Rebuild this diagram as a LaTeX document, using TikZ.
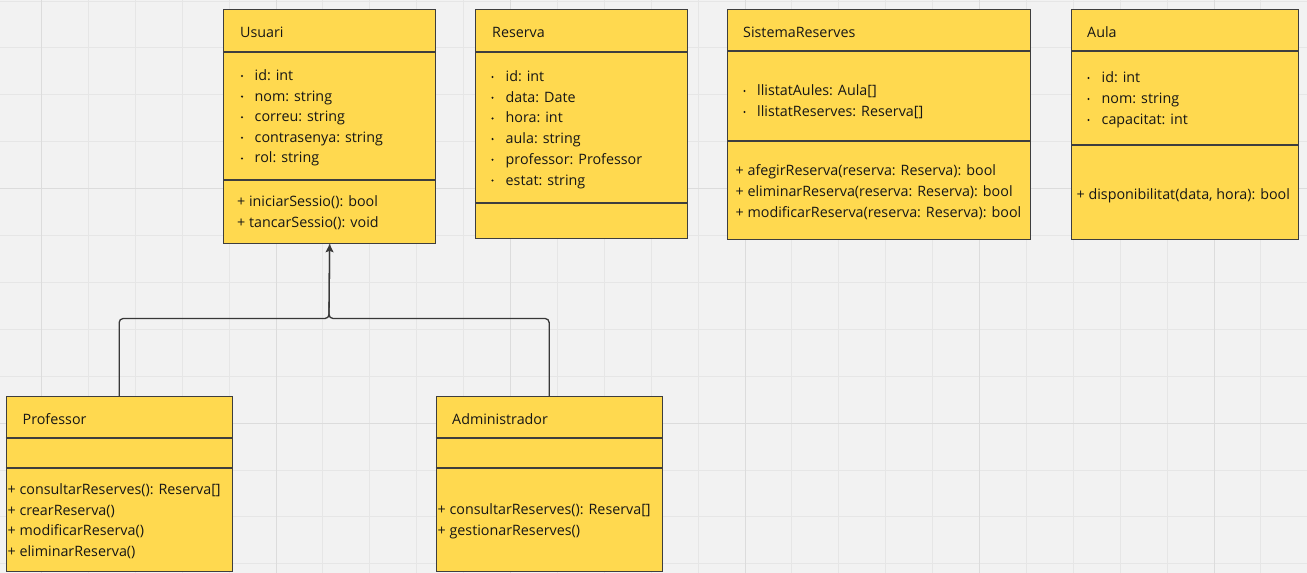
\documentclass[tikz,border=0pt]{standalone}
\usepackage{fontspec}
\setmainfont{Open Sans}
\usetikzlibrary{arrows.meta}

\definecolor{canvas}{HTML}{F2F2F2}
\definecolor{gridminor}{HTML}{E6E6E6}
\definecolor{gridmajor}{HTML}{DCDCDC}
\definecolor{umlyellow}{HTML}{FFD94F}
\definecolor{umlborder}{HTML}{3E3E3E}
\definecolor{ink}{HTML}{161616}

\tikzset{
  classbox/.style={draw=umlborder, fill=umlyellow, line width=1.3pt,
    anchor=north west, inner sep=0pt},
  divider/.style={draw=umlborder, line width=1.3pt},
  label/.style={anchor=west, inner sep=0pt, text=ink,
    font=\fontsize{14.3}{16}\selectfont, text height=11pt, text depth=0pt},
  bulletdot/.style={fill=ink, circle, inner sep=0pt, minimum size=2.3pt, yshift=-1pt},
  inherit/.style={draw=umlborder!90!black, line width=1.3pt, rounded corners=4pt},
}

\begin{document}
\begin{tikzpicture}[x=1pt, y=-1pt]
  \useasboundingbox (0,0) rectangle (1307,573);
  \fill[canvas] (0,0) rectangle (1307,573);

  % background grid
  \foreach \i in {0,...,27}
    \draw[gridminor, line width=1pt] ({41.5+46.9*\i},0) -- ++(0,573);
  \foreach \j in {0,...,12}
    \draw[gridminor, line width=1pt] (0,{1+46.9*\j}) -- ++(1307,0);
  \foreach \i in {0,5,...,25}
    \draw[gridmajor, line width=1pt] ({41.5+46.9*\i},0) -- ++(0,573);
  \foreach \j in {4,9}
    \draw[gridmajor, line width=1pt] (0,{1+46.9*\j}) -- ++(1307,0);

  % ---- Usuari ----
  \node[classbox, minimum width=212pt, minimum height=234pt] (usuari) at (223,9) {};
  \draw[divider] (223,52) -- (435,52);
  \draw[divider] (223,180) -- (435,180);
  \node[label] (usuari-title) at (240,32) {Usuari};
  \foreach \t [count=\k] in {id: int, nom: string, correu: string, contrasenya: string, rol: string} {
    \node[bulletdot] (usuari-b\k) at (242,{75+20.6*(\k-1)}) {};
    \node[label] (usuari-a\k) at (254.5,{75+20.6*(\k-1)}) {\t};
  }
  \foreach \t [count=\k] in {+ iniciarSessio(): bool, + tancarSessio(): void}
    \node[label] (usuari-m\k) at (237,{201+21*(\k-1)}) {\t};

  % ---- Reserva ----
  \node[classbox, minimum width=212pt, minimum height=229pt] (reserva) at (475,9) {};
  \draw[divider] (475,52) -- (687,52);
  \draw[divider] (475,203) -- (687,203);
  \node[label] (reserva-title) at (492,32) {Reserva};
  \foreach \t [count=\k] in {id: int, data: Date, hora: int, aula: string, professor: Professor, estat: string} {
    \node[bulletdot] (reserva-b\k) at (492.5,{76+20.7*(\k-1)}) {};
    \node[label] (reserva-a\k) at (505.5,{76+20.7*(\k-1)}) {\t};
  }

  % ---- SistemaReserves ----
  \node[classbox, minimum width=303pt, minimum height=230pt] (sistema) at (727,9) {};
  \draw[divider] (727,51) -- (1030,51);
  \draw[divider] (727,141) -- (1030,141);
  \node[label] (sistema-title) at (743,32) {SistemaReserves};
  \foreach \t [count=\k] in {llistatAules: Aula[], llistatReserves: Reserva[]} {
    \node[bulletdot] (sistema-b\k) at (744.5,{90+21*(\k-1)}) {};
    \node[label] (sistema-a\k) at (757,{90+21*(\k-1)}) {\t};
  }
  \foreach \t [count=\k] in {+ afegirReserva(reserva: Reserva): bool,
                             + eliminarReserva(reserva: Reserva): bool,
                             + modificarReserva(reserva: Reserva): bool}
    \node[label] (sistema-m\k) at (735.5,{169.5+21*(\k-1)}) {\t};

  % ---- Aula ----
  \node[classbox, minimum width=227pt, minimum height=230pt] (aula) at (1071,9) {};
  \draw[divider] (1071,51) -- (1298,51);
  \draw[divider] (1071,145) -- (1298,145);
  \node[label] (aula-title) at (1087,32) {Aula};
  \foreach \t [count=\k] in {id: int, nom: string, capacitat: int} {
    \node[bulletdot] (aula-b\k) at (1088.5,{77+21*(\k-1)}) {};
    \node[label] (aula-a\k) at (1101.5,{77+21*(\k-1)}) {\t};
  }
  \node[label] (aula-m1) at (1076.5,194) {+ disponibilitat(data, hora): bool};

  % ---- Professor ----
  \node[classbox, minimum width=226pt, minimum height=175pt] (professor) at (5.5,396) {};
  \draw[divider] (5.5,438) -- (231.5,438);
  \draw[divider] (5.5,468) -- (231.5,468);
  \node[label] (professor-title) at (22.5,419) {Professor};
  \foreach \t [count=\k] in {+ consultarReserves(): Reserva[], + crearReserva(), + modificarReserva(), + eliminarReserva()}
    \node[label] (professor-m\k) at (7.5,{489+20.7*(\k-1)}) {\t};

  % ---- Administrador ----
  \node[classbox, minimum width=226pt, minimum height=175pt] (admin) at (435.5,396) {};
  \draw[divider] (435.5,438) -- (661.5,438);
  \draw[divider] (435.5,468) -- (661.5,468);
  \node[label] (admin-title) at (452,419) {Administrador};
  \foreach \t [count=\k] in {+ consultarReserves(): Reserva[], + gestionarReserves()}
    \node[label] (admin-m\k) at (437.5,{509+20.5*(\k-1)}) {\t};

  % ---- generalisation: Professor, Administrador -> Usuari ----
  \coordinate (join) at (329,318.5);
  \draw[inherit] (professor.north) |- (join) -- (usuari.south);
  \draw[inherit, -{Stealth[length=8pt, width=8pt, inset=1.5pt]}]
    (admin.north) |- (join) -- (usuari.south);
\end{tikzpicture}
\end{document}
